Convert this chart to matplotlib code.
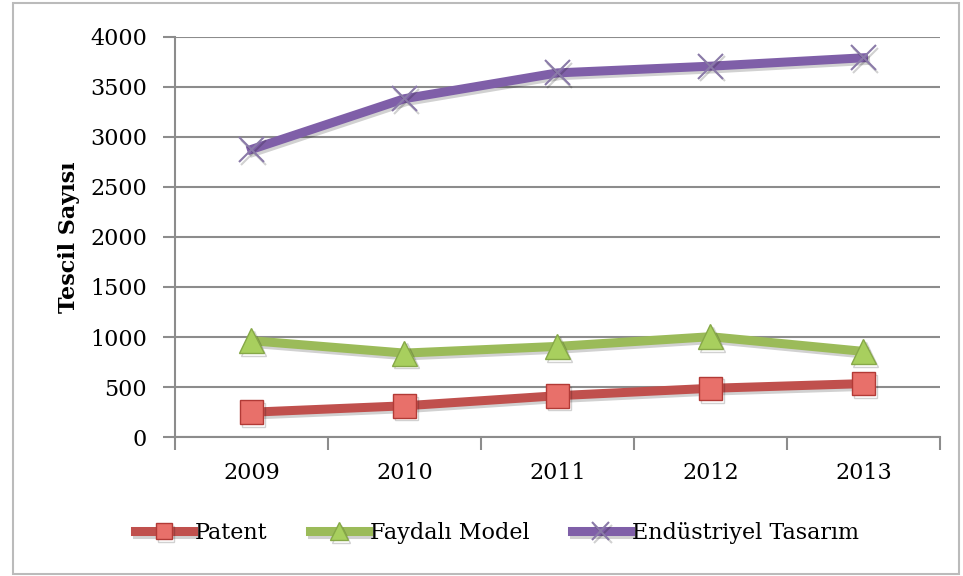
import matplotlib.pyplot as plt
import matplotlib.patheffects as pe
from matplotlib.patches import Rectangle

# values
years = ['2009', '2010', '2011', '2012', '2013']
patent = [248, 312, 413, 487, 534]
faydali = [963, 839, 906, 1003, 856]
endustriyel = [2876, 3383, 3641, 3708, 3792]

plt.rcParams['font.family'] = 'DejaVu Serif'

fig = plt.figure(figsize=(9.63, 5.76), dpi=100)
ax = fig.add_axes([0.1817, 0.2413, 0.7944, 0.6945])

x = list(range(len(years)))
shadow = [pe.SimpleLineShadow(offset=(1.5, -2), alpha=0.18), pe.Normal()]

ax.plot(x, patent, color='#C0504D', lw=6.5, marker='s', ms=17,
        mfc='#E8706A', mec='#B23A36', mew=1, label='Patent', zorder=3,
        path_effects=shadow)
ax.plot(x, faydali, color='#9BBB59', lw=6.5, marker='^', ms=18,
        mfc='#A8CF5E', mec='#86A848', mew=1, label='Faydalı Model', zorder=3,
        path_effects=shadow)
ax.plot(x, endustriyel, color='#7F5FA8', lw=6.5, marker='x', ms=18,
        mec='#8A7AA8', mew=1.5, label='Endüstriyel Tasarım', zorder=3,
        path_effects=shadow)

ax.set_xlim(-0.5, 4.5)
ax.set_ylim(0, 4000)
ax.set_yticks(range(0, 4001, 500))
ax.set_xticks(x)
ax.set_xticklabels(years)
ax.set_xticks([i - 0.5 for i in range(len(years) + 1)], minor=True)

ax.tick_params(axis='x', which='major', length=0, pad=18, labelsize=16)
ax.tick_params(axis='x', which='minor', length=9, width=1.5, color='#8c8c8c', direction='out')
ax.tick_params(axis='y', length=9, width=1.5, color='#8c8c8c', pad=11, labelsize=16)

ax.yaxis.grid(True, color='#8c8c8c', lw=1.5)
ax.set_axisbelow(True)
for s in ['top', 'right']:
    ax.spines[s].set_visible(False)
for s in ['left', 'bottom']:
    ax.spines[s].set_color('#8c8c8c')
    ax.spines[s].set_linewidth(1.5)

ax.set_ylabel('Tescil Sayısı', fontsize=16, fontweight='bold')
ax.yaxis.set_label_coords(-0.124, 0.5)

fig.legend(loc='center', bbox_to_anchor=(497 / 963, 1 - 533 / 576), ncol=3,
           frameon=False, handlelength=2.6, handletextpad=0.1,
           columnspacing=1.9, fontsize=16, markerscale=0.7)

# outer frame like the original chart box
fig.patches.append(Rectangle((13 / 963, 2 / 576), 946 / 963, 571 / 576,
                             transform=fig.transFigure, fill=False,
                             edgecolor='#bbbbbb', lw=1.5))

fig.savefig('out.png', dpi=100)
